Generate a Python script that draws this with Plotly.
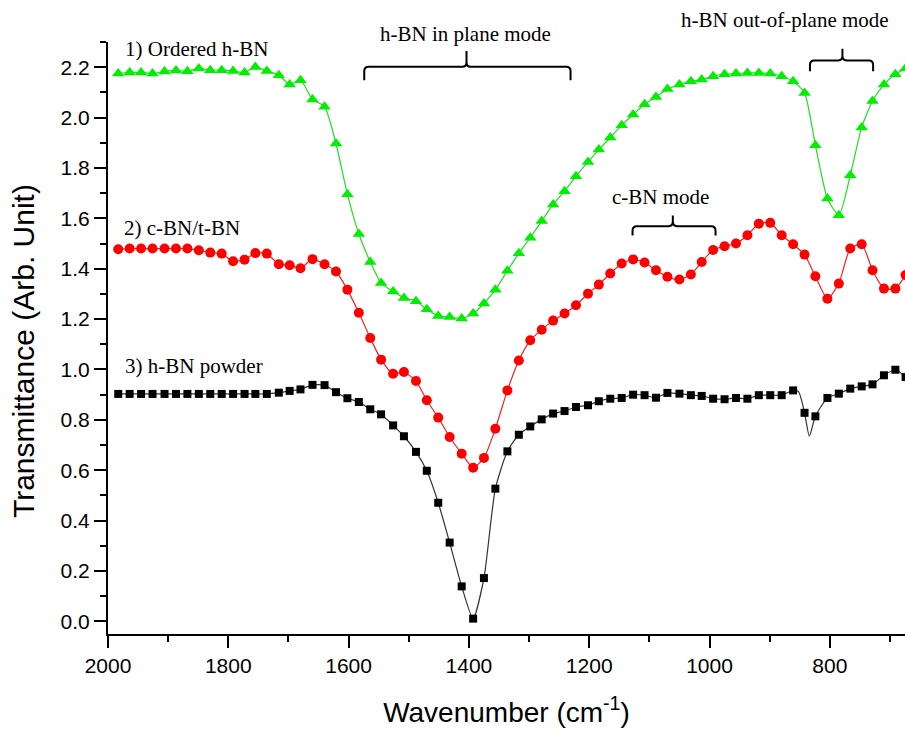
import plotly.graph_objects as go

# ---------------- data ----------------
wavenumber = [1983, 1964, 1945, 1926, 1906, 1887, 1868, 1849, 1830, 1811,
              1792, 1773, 1755, 1736, 1716, 1698, 1680, 1660, 1640, 1621,
              1602, 1583, 1564, 1546, 1526, 1508, 1488, 1470, 1451, 1432,
              1412, 1393, 1375, 1356, 1336, 1317, 1298, 1279, 1260, 1241,
              1222, 1202, 1184, 1165, 1146, 1127, 1108, 1089, 1070, 1050,
              1031, 1013, 994, 975, 956, 937, 918, 899, 880, 861,
              842, 824, 804, 785, 766, 747, 729, 710, 691, 674]

ordered_hbn = [2.175, 2.179, 2.179, 2.175, 2.183, 2.187, 2.184, 2.195, 2.188, 2.188,
               2.185, 2.179, 2.201, 2.185, 2.168, 2.131, 2.148, 2.072, 2.043, 1.897,
               1.696, 1.538, 1.427, 1.343, 1.310, 1.284, 1.271, 1.239, 1.212, 1.208,
               1.202, 1.222, 1.262, 1.317, 1.392, 1.461, 1.523, 1.589, 1.655, 1.708,
               1.767, 1.824, 1.873, 1.921, 1.970, 2.012, 2.053, 2.082, 2.113, 2.131,
               2.144, 2.151, 2.164, 2.172, 2.175, 2.177, 2.177, 2.175, 2.164, 2.144,
               2.098, 1.890, 1.679, 1.612, 1.771, 1.961, 2.066, 2.131, 2.172, 2.196]

cbn_tbn = [1.477, 1.480, 1.480, 1.480, 1.480, 1.480, 1.480, 1.473, 1.464, 1.460,
           1.430, 1.436, 1.462, 1.460, 1.418, 1.414, 1.402, 1.438, 1.418, 1.389,
           1.317, 1.225, 1.125, 1.039, 0.983, 0.990, 0.954, 0.878, 0.809, 0.732,
           0.666, 0.610, 0.649, 0.765, 0.917, 1.036, 1.116, 1.158, 1.194, 1.222,
           1.255, 1.301, 1.337, 1.381, 1.421, 1.437, 1.425, 1.394, 1.368, 1.357,
           1.377, 1.427, 1.474, 1.489, 1.500, 1.533, 1.579, 1.582, 1.533, 1.497,
           1.456, 1.370, 1.281, 1.341, 1.480, 1.497, 1.394, 1.321, 1.321, 1.375]

hbn_powder = [0.903, 0.903, 0.903, 0.903, 0.903, 0.903, 0.903, 0.903, 0.903, 0.903,
              0.903, 0.903, 0.903, 0.903, 0.908, 0.915, 0.921, 0.939, 0.938, 0.910,
              0.886, 0.871, 0.842, 0.822, 0.778, 0.735, 0.673, 0.598, 0.471, 0.313,
              0.139, 0.011, 0.172, 0.527, 0.675, 0.741, 0.774, 0.802, 0.825, 0.835,
              0.851, 0.858, 0.874, 0.884, 0.887, 0.900, 0.898, 0.888, 0.907, 0.904,
              0.898, 0.895, 0.884, 0.882, 0.887, 0.884, 0.898, 0.898, 0.898, 0.917,
              0.828, 0.814, 0.887, 0.904, 0.924, 0.933, 0.941, 0.977, 0.999, 0.970]

# extra line-only points of the powder spectrum (sharp dip between markers)
powder_line_extra_wn = [852, 834]
powder_line_extra_val = [0.912, 0.735]

series_labels = ["1) Ordered h-BN", "2) c-BN/t-BN", "3) h-BN powder"]
mode_labels = ["h-BN in plane mode", "h-BN out-of-plane mode", "c-BN mode"]

x_ticks = [2000, 1800, 1600, 1400, 1200, 1000, 800]

# ---------------- figure ----------------
fig = go.Figure()

fig.add_trace(go.Scatter(
    x=wavenumber, y=ordered_hbn, mode="lines+markers",
    line=dict(color="#22DD22", width=1.2, shape="spline", smoothing=0.6),
    marker=dict(symbol="triangle-up", size=11, color="#00EE00"),
    showlegend=False))

fig.add_trace(go.Scatter(
    x=wavenumber, y=cbn_tbn, mode="lines+markers",
    line=dict(color="#EE2222", width=1.2, shape="spline", smoothing=0.6),
    marker=dict(symbol="circle", size=10, color="#FF0000"),
    showlegend=False))

# powder: line through all points (incl. hidden ones), markers on the sampled ones
pl = sorted(zip(wavenumber + powder_line_extra_wn, hbn_powder + powder_line_extra_val),
            reverse=True)
fig.add_trace(go.Scatter(
    x=[p[0] for p in pl], y=[p[1] for p in pl], mode="lines",
    line=dict(color="#333333", width=1.2, shape="spline", smoothing=0.6),
    showlegend=False, hoverinfo="skip"))
fig.add_trace(go.Scatter(
    x=wavenumber, y=hbn_powder, mode="markers",
    marker=dict(symbol="square", size=8, color="#000000"),
    showlegend=False))

serif = "Liberation Serif, Times New Roman, serif"
sans = "Liberation Sans, Arial, sans-serif"

# series labels
label_pos = [(1975, 2.274), (1977, 1.563), (1975, 1.015)]
for txt, (lx, ly) in zip(series_labels, label_pos):
    fig.add_annotation(x=lx, y=ly, xref="x", yref="y", text=txt, showarrow=False,
                       xanchor="left", yanchor="middle",
                       font=dict(family=serif, size=21, color="black"))

# mode labels
fig.add_annotation(x=1405, y=1.0135, xref="x", yref="paper", text=mode_labels[0],
                   showarrow=False, xanchor="center", yanchor="middle",
                   font=dict(family=serif, size=21, color="black"))
fig.add_annotation(x=874, y=1.037, xref="x", yref="paper", text=mode_labels[1],
                   showarrow=False, xanchor="center", yanchor="middle",
                   font=dict(family=serif, size=21, color="black"))
fig.add_annotation(x=1081, y=1.686, xref="x", yref="y", text=mode_labels[2],
                   showarrow=False, xanchor="center", yanchor="middle",
                   font=dict(family=serif, size=21, color="black"))

# y-axis title (placed as rotated text to match reference position)
fig.add_annotation(x=-0.1066, y=0.478, xref="paper", yref="paper",
                   text="Transmittance (Arb. Unit)", textangle=-90, showarrow=False,
                   xanchor="center", yanchor="middle",
                   font=dict(family=sans, size=30, color="black"))


def bracket(xl, xr, xc, yh, yb, yt, rx=7.0, ry=0.018):
    return (f"M {xl},{yb} L {xl},{yh - ry} Q {xl},{yh} {xl - rx},{yh} "
            f"L {xc + rx},{yh} Q {xc},{yh} {xc},{yh + ry} L {xc},{yt} "
            f"M {xc},{yh + ry} Q {xc},{yh} {xc - rx},{yh} "
            f"L {xr + rx},{yh} Q {xr},{yh} {xr},{yh - ry} L {xr},{yb}")


for b in [(1574, 1231, 1404, 2.202, 2.148, 2.264),
          (833, 728, 779, 2.227, 2.184, 2.273),
          (1128, 990, 1061, 1.569, 1.532, 1.611)]:
    fig.add_shape(type="path", xref="x", yref="y", path=bracket(*b),
                  line=dict(color="black", width=2))

fig.update_layout(
    width=905, height=731,
    margin=dict(l=108, r=0, t=42, b=97),
    paper_bgcolor="white", plot_bgcolor="white",
    showlegend=False,
    font=dict(family=sans, color="black"),
)

fig.update_xaxes(
    range=[2000, 675], tickvals=x_ticks, ticktext=[str(v) for v in x_ticks],
    showline=True, linecolor="black", linewidth=2, mirror=False,
    ticks="outside", ticklen=12, tickwidth=2, tickcolor="black",
    minor=dict(dtick=100, tick0=0, ticks="outside", ticklen=6, tickwidth=2, tickcolor="black"),
    showgrid=False, zeroline=False,
    tickfont=dict(family=sans, size=21, color="black"),
    title=dict(text="Wavenumber (cm<sup>-1</sup>)", font=dict(family=sans, size=28, color="black"),
               standoff=26),
)

fig.update_yaxes(
    range=[-0.05, 2.3], dtick=0.2, tick0=0, tickformat=".1f",
    showline=True, linecolor="black", linewidth=2,
    ticks="outside", ticklen=12, tickwidth=2, tickcolor="black",
    minor=dict(dtick=0.1, tick0=0, ticks="outside", ticklen=6, tickwidth=2, tickcolor="black"),
    showgrid=False, zeroline=False,
    tickfont=dict(family=sans, size=21, color="black"),
)

fig.write_html("out.html")
